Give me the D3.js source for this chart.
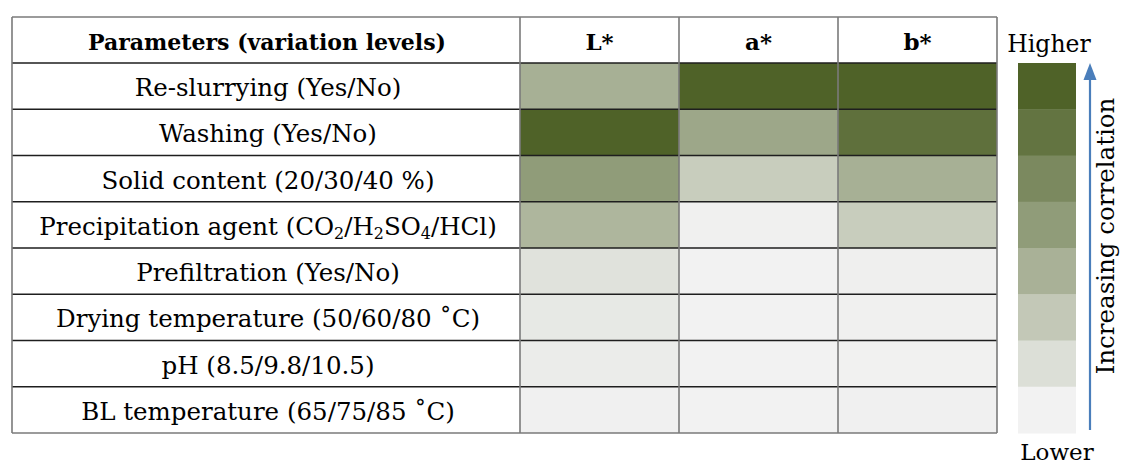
<!DOCTYPE html>
<html><head><meta charset="utf-8">
<script src="https://cdn.jsdelivr.net/npm/d3@7"></script>
<style>body{margin:0;background:#fff}svg{display:block}</style>
</head><body>
<svg id="c" width="1121" height="468"></svg>
<script>
const parameters = [
  [{t:"Re-slurrying (Yes/No)"}],
  [{t:"Washing (Yes/No)"}],
  [{t:"Solid content (20/30/40 %)"}],
  [{t:"Precipitation agent (CO"},{t:"2",s:1},{t:"/H"},{t:"2",s:1},{t:"SO"},{t:"4",s:1},{t:"/HCl)"}],
  [{t:"Prefiltration (Yes/No)"}],
  [{t:"Drying temperature (50/60/80 ˚C)"}],
  [{t:"pH (8.5/9.8/10.5)"}],
  [{t:"BL temperature (65/75/85 ˚C)"}]
];
const rowIds = d3.range(parameters.length);
const responses = ["L*", "a*", "b*"];
// relative correlation strength (0 = lower, 1 = higher)
const valuesL = [0.46, 1.00, 0.60, 0.42, 0.11, 0.065, 0.04, 0.012];
const valuesA = [1.00, 0.52, 0.26, 0.015, 0.00, 0.00, 0.00, 0.00];
const valuesB = [1.00, 0.90, 0.46, 0.26, 0.02, 0.015, 0.008, 0.012];
const legendLevels = [1.00, 0.875, 0.73, 0.60, 0.45, 0.29, 0.135, 0.00];
const headerTitle = "Parameters (variation levels)";

(function(){
const svg = d3.select("#c");
const font = "DejaVu Serif";
const fs = 24.5;
const fsHead = 22;

const color = d3.scaleLinear().domain([0,1]).range(["#f2f2f2","#4f6228"]).interpolate(d3.interpolateRgb);

const yTop = 17, headBottom = 63, yBottom = 433;
const xLeft = 12, xSplit = 520, xRight = 997;
const y = d3.scaleBand().domain(rowIds).range([headBottom, yBottom]);
const x = d3.scaleBand().domain(responses).range([xSplit, xRight]);

const cols = {"L*": valuesL, "a*": valuesA, "b*": valuesB};
const cells = [];
responses.forEach(r => rowIds.forEach(i => cells.push({r, i, v: cols[r][i]})));

svg.append("g").selectAll("rect").data(cells).join("rect")
  .attr("x", d => x(d.r)).attr("y", d => y(d.i))
  .attr("width", x.bandwidth()).attr("height", y.bandwidth())
  .attr("fill", d => color(d.v));

const g = svg.append("g").attr("fill","none");
rowIds.forEach(i => {
  if (i === 0) return;
  g.append("line").attr("x1", xLeft).attr("x2", xRight).attr("y1", y(i)).attr("y2", y(i))
    .attr("stroke", "#1e1e1e").attr("stroke-width", 1.3);
});
g.append("line").attr("x1", xLeft).attr("x2", xRight).attr("y1", headBottom).attr("y2", headBottom)
  .attr("stroke", "#1e1e1e").attr("stroke-width", 1.3);
[xLeft, ...responses.map(r => x(r)), xRight].forEach(xx => {
  g.append("line").attr("x1", xx).attr("x2", xx).attr("y1", yTop).attr("y2", yBottom)
    .attr("stroke", "#7a7a7a").attr("stroke-width", 1.6);
});
g.append("line").attr("x1", xLeft).attr("x2", xRight).attr("y1", yTop).attr("y2", yTop)
  .attr("stroke", "#7a7a7a").attr("stroke-width", 1.6);
g.append("line").attr("x1", xLeft).attr("x2", xRight).attr("y1", yBottom).attr("y2", yBottom)
  .attr("stroke", "#7a7a7a").attr("stroke-width", 1.6);

svg.append("text").attr("x", (xLeft + xSplit)/2 + 1).attr("y", 50)
  .attr("text-anchor","middle").attr("font-family", font).attr("font-weight","bold")
  .attr("font-size", fsHead).attr("fill","#000").text(headerTitle);
svg.append("g").selectAll("text").data(responses).join("text")
  .attr("x", d => x(d) + x.bandwidth()/2).attr("y", 50)
  .attr("text-anchor","middle").attr("font-family", font).attr("font-weight","bold")
  .attr("font-size", fsHead + 1).attr("fill","#000").text(d => d);

const lab = svg.append("g").selectAll("text").data(parameters).join("text")
  .attr("x", (xLeft + xSplit)/2 + 2).attr("y", (d,i) => y(i) + y.bandwidth()/2 + 10)
  .attr("text-anchor","middle").attr("font-family", font)
  .attr("font-size", fs).attr("fill","#000");
lab.each(function(parts){
  const t = d3.select(this);
  parts.forEach(p => {
    const ts = t.append("tspan").text(p.t);
    if (p.s) ts.attr("font-size", fs*0.65).attr("baseline-shift", "-25%");
  });
});

const ly = d3.scaleBand().domain(d3.range(legendLevels.length)).range([headBottom, yBottom]);
svg.append("g").selectAll("rect").data(legendLevels).join("rect")
  .attr("x", 1018).attr("y", (d,i) => ly(i)).attr("width", 58).attr("height", ly.bandwidth()+0.5)
  .attr("fill", d => color(d));
svg.append("text").attr("x", 1049).attr("y", 52).attr("text-anchor","middle")
  .attr("font-family", font).attr("font-size", fs - 1).text("Higher");
svg.append("text").attr("x", 1057).attr("y", 460).attr("text-anchor","middle")
  .attr("font-family", font).attr("font-size", fs - 1.5).text("Lower");
svg.append("line").attr("x1", 1090).attr("x2", 1090).attr("y1", 430).attr("y2", 75)
  .attr("stroke", "#4a7ebb").attr("stroke-width", 2.2);
svg.append("path").attr("d", "M1090,63 L1083.5,80 L1096.5,80 Z").attr("fill", "#4a7ebb");
svg.append("text").attr("transform", "translate(1114,236) rotate(-90)")
  .attr("text-anchor","middle").attr("font-family", font).attr("font-size", fs)
  .text("Increasing correlation");
})();
</script>
</body></html>
